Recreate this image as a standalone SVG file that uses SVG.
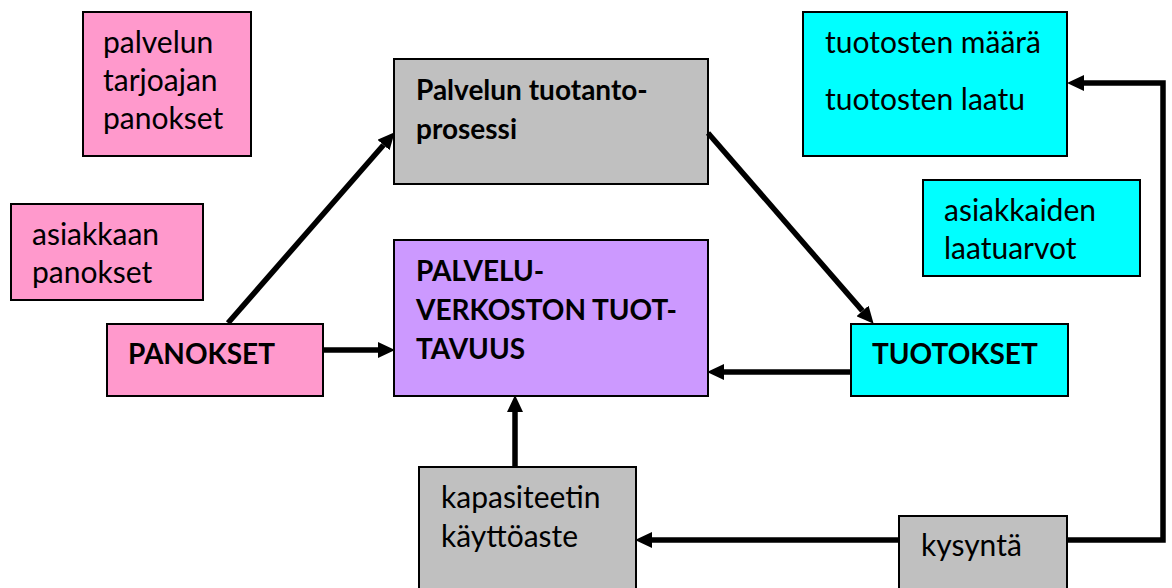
<svg xmlns="http://www.w3.org/2000/svg" width="1172" height="588" viewBox="0 0 1172 588">
  <style>
    .box { stroke: #000; stroke-width: 2; }
    .pink { fill: #FF99CC; }
    .gray { fill: #C0C0C0; }
    .purple { fill: #CC99FF; }
    .cyan { fill: #00FFFF; }
    text { font-family: Lato, "Liberation Sans", sans-serif; font-size: 30px; fill: #000; }
    .b { font-weight: bold; font-size: 28px; }
    .conn { stroke: #000; stroke-width: 5.5; fill: none; }
  </style>
  <defs>
    <marker id="arr" markerUnits="userSpaceOnUse" markerWidth="18" markerHeight="16" refX="0" refY="8" orient="auto">
      <path d="M0,0 L17,8 L0,16 z" fill="#000"/>
    </marker>
  </defs>
  <rect width="1172" height="588" fill="#fff"/>

  <g id="node-tarjoajan">
    <rect class="box pink" x="83" y="12" width="168" height="144"/>
    <text x="103" y="53">palvelun</text>
    <text x="103" y="91">tarjoajan</text>
    <text x="103" y="129">panokset</text>
  </g>
  <g id="node-asiakkaan">
    <rect class="box pink" x="11" y="204" width="192" height="96"/>
    <text x="32" y="245">asiakkaan</text>
    <text x="32" y="283">panokset</text>
  </g>
  <g id="node-panokset">
    <rect class="box pink" x="107" y="324" width="216" height="72"/>
    <text class="b" x="128" y="364">PANOKSET</text>
  </g>
  <g id="node-prosessi">
    <rect class="box gray" x="394" y="59" width="314" height="125"/>
    <text class="b" x="416" y="100">Palvelun tuotanto-</text>
    <text class="b" x="416" y="139">prosessi</text>
  </g>
  <g id="node-tuottavuus">
    <rect class="box purple" x="394" y="240" width="314" height="156"/>
    <text class="b" x="416" y="281">PALVELU-</text>
    <text class="b" x="416" y="320">VERKOSTON TUOT-</text>
    <text class="b" x="416" y="359">TAVUUS</text>
  </g>
  <g id="node-tuotosten">
    <rect class="box cyan" x="803" y="12" width="264" height="144"/>
    <text x="825" y="53">tuotosten määrä</text>
    <text x="825" y="110">tuotosten laatu</text>
  </g>
  <g id="node-laatuarvot">
    <rect class="box cyan" x="923" y="180" width="217" height="96"/>
    <text x="944" y="221">asiakkaiden</text>
    <text x="944" y="259">laatuarvot</text>
  </g>
  <g id="node-tuotokset">
    <rect class="box cyan" x="851" y="324" width="217" height="72"/>
    <text class="b" x="872" y="364">TUOTOKSET</text>
  </g>
  <g id="node-kapasiteetti">
    <rect class="box gray" x="419" y="467" width="217" height="140"/>
    <text x="441" y="508">kapasiteetin</text>
    <text x="441" y="547">käyttöaste</text>
  </g>
  <g id="node-kysynta">
    <rect class="box gray" x="899" y="516" width="168" height="90"/>
    <text x="921" y="556">kysyntä</text>
  </g>

  <g id="connectors">
    <path class="conn" d="M228,323 L383.5,145" marker-end="url(#arr)"/>
    <path class="conn" d="M708,133 L862.5,310.9" marker-end="url(#arr)"/>
    <path class="conn" d="M323,350 L378,350" marker-end="url(#arr)"/>
    <path class="conn" d="M851,372 L724,372" marker-end="url(#arr)"/>
    <path class="conn" d="M515,467 L515,412" marker-end="url(#arr)"/>
    <path class="conn" d="M899,540 L652,540" marker-end="url(#arr)"/>
    <path class="conn" d="M1067,540 H1163 V83 H1084" marker-end="url(#arr)"/>
  </g>
</svg>
